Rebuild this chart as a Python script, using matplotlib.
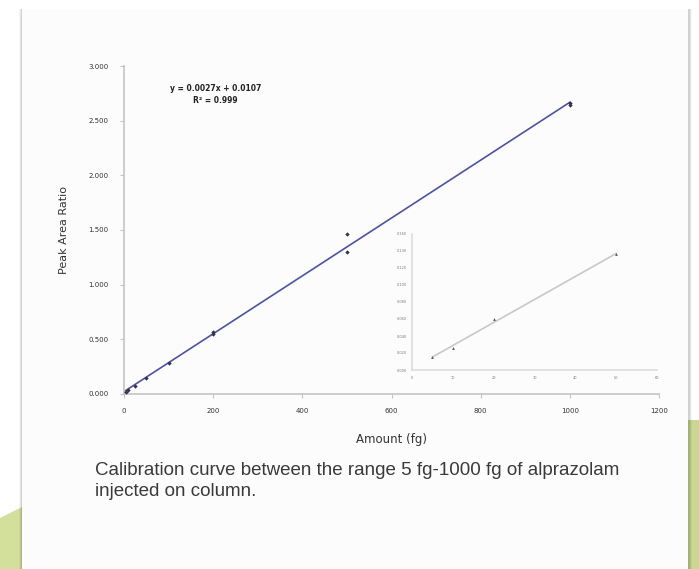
import matplotlib
matplotlib.use("Agg")
import matplotlib.pyplot as plt
from matplotlib.patches import Polygon, Rectangle
import numpy as np

# ---- data ----
amount = [5, 10, 25, 50, 100, 200, 200, 500, 500, 1000, 1000]
ratio = [0.02, 0.035, 0.075, 0.15, 0.285, 0.55, 0.565, 1.46, 1.30, 2.66, 2.64]
x_ticks = [0, 200, 400, 600, 800, 1000, 1200]
y_ticks = [0.0, 0.5, 1.0, 1.5, 2.0, 2.5, 3.0]

inset_amount = [5, 10, 20, 50]
inset_ratio = [0.015, 0.026, 0.06, 0.136]
inset_x_ticks = [0, 10, 20, 30, 40, 50, 60]
inset_y_ticks = [0.0, 0.02, 0.04, 0.06, 0.08, 0.10, 0.12, 0.14, 0.16]

equation = "y = 0.0027x + 0.0107"
r2 = "R² = 0.999"
caption = "Calibration curve between the range 5 fg-1000 fg of alprazolam\ninjected on column."

W, H = 699, 569
fig = plt.figure(figsize=(W / 100, H / 100), dpi=100)
fig.patch.set_facecolor("white")

def fx(px):
    return px / W

def fy(py):
    return 1 - py / H

green = "#d3e09c"
# background green shapes
fig.patches.append(Polygon([(fx(0), fy(518)), (fx(40), fy(498)), (fx(40), fy(569)), (fx(0), fy(569))],
                           closed=True, transform=fig.transFigure, facecolor=green, edgecolor="none", zorder=0))
fig.patches.append(Rectangle((fx(688), fy(569)), fx(11), fy(420) - fy(569),
                             transform=fig.transFigure, facecolor="#c9d78f", edgecolor="none", zorder=0))
# card shadow
for i, a in enumerate([0.04, 0.06, 0.09]):
    fig.patches.append(Rectangle((fx(19 + i), fy(569)), fx(673 - 2 * i), fy(9) - fy(569),
                                 transform=fig.transFigure, facecolor="#000000", alpha=a,
                                 edgecolor="none", zorder=0.5))
# card
fig.patches.append(Rectangle((fx(22), fy(569)), fx(666), fy(9) - fy(569),
                             transform=fig.transFigure, facecolor="#fcfcfc", edgecolor="none", zorder=1))

axis_gray = "#c4c4c4"

# main axes
ax = fig.add_axes([fx(124), fy(394), fx(659) - fx(124), fy(66) - fy(394)])
ax.set_zorder(5)
ax.set_facecolor("none")
m, b = np.polyfit(amount, ratio, 1)
fit_x = np.array([0, max(amount)])
ax.plot(fit_x, m * fit_x + b, color="#4f52a0", lw=1.2, zorder=2)
ax.scatter(amount, ratio, s=5, marker="D", color="#33334a", zorder=3, linewidths=0)
ax.set_xlim(0, 1200)
ax.set_ylim(0, 3.0)
ax.set_xticks(x_ticks)
ax.set_xticklabels([str(v) for v in x_ticks])
ax.set_yticks(y_ticks)
ax.set_yticklabels([f"{v:.3f}" for v in y_ticks])
for s in ["top", "right"]:
    ax.spines[s].set_visible(False)
for s in ["left", "bottom"]:
    ax.spines[s].set_color(axis_gray)
    ax.spines[s].set_linewidth(1.2)
ax.tick_params(axis="both", labelsize=5, colors=axis_gray, labelcolor="#333333", length=3, width=0.8)
ax.tick_params(axis="y", pad=8)
ax.tick_params(axis="x", pad=7)
ax.set_xlabel("Amount (fg)", fontsize=8.5, color="#333333", labelpad=14)
ax.set_ylabel("Peak Area Ratio", fontsize=8, color="#333333", labelpad=14)
ax.text(0.171, 0.913, equation + "\n" + r2, transform=ax.transAxes, ha="center", va="center",
        fontsize=5.5, fontweight="bold", color="#222222", linespacing=1.5)

# inset axes
ia = fig.add_axes([fx(412), fy(370), fx(657) - fx(412), fy(234) - fy(370)])
ia.set_zorder(6)
ia.set_facecolor("none")
im, ib = np.polyfit(inset_amount, inset_ratio, 1)
ifx = np.array([min(inset_amount), max(inset_amount)])
ia.plot(ifx, im * ifx + ib, color="#c8c8c8", lw=1.2, zorder=2)
ia.scatter(inset_amount, inset_ratio, s=4, marker="^", color="#555555", zorder=3, linewidths=0)
ia.set_xlim(0, 60)
ia.set_ylim(0, 0.16)
ia.set_xticks(inset_x_ticks)
ia.set_xticklabels([str(v) for v in inset_x_ticks])
ia.set_yticks(inset_y_ticks)
ia.set_yticklabels([f"{v:.3f}" for v in inset_y_ticks])
for s in ["top", "right"]:
    ia.spines[s].set_visible(False)
for s in ["left", "bottom"]:
    ia.spines[s].set_color("#dddddd")
    ia.spines[s].set_linewidth(1.2)
ia.tick_params(axis="both", labelsize=2.5, colors="#dddddd", labelcolor="#777777", length=0, pad=4)

cap = fig.text(fx(95), fy(481), caption, ha="left", va="center", fontsize=13.5,
               family="Liberation Sans", color="#3a3a3a", linespacing=1.3)
cap.set_zorder(6)

fig.savefig("out.png", dpi=100, facecolor=fig.get_facecolor())
